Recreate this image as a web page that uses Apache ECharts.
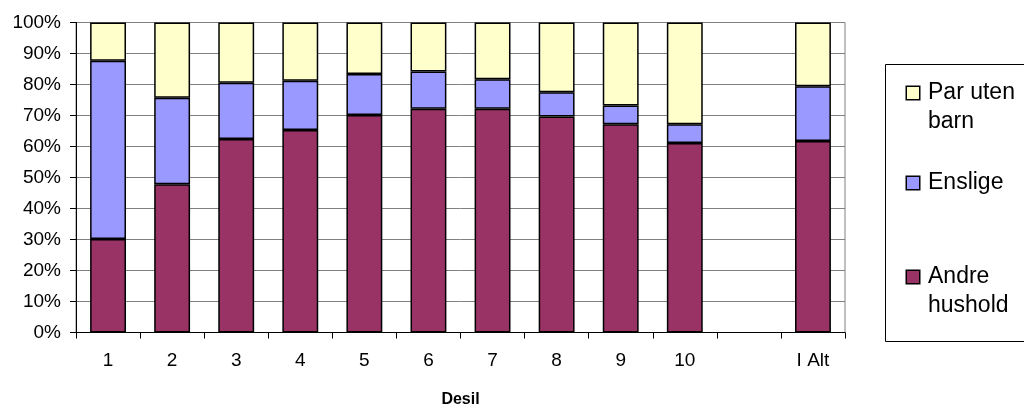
<!DOCTYPE html>
<html>
<head>
<meta charset="utf-8">
<title>Desil</title>
<script src="https://cdn.jsdelivr.net/npm/echarts@6/dist/echarts.min.js"></script>
<style>
  html, body { margin: 0; padding: 0; background: #ffffff; }
  #chart { width: 1024px; height: 408px; }
</style>
</head>
<body>
<div id="chart"></div>
<script>
// Household composition by income decile (share of households, %)
const categories = ['1', '2', '3', '4', '5', '6', '7', '8', '9', '10', '', 'I Alt'];
const andreHushold = [30.2, 47.8, 62.4, 65.3, 70.2, 72.2, 72.2, 69.7, 67.2, 61.1, null, 61.8];
const enslige      = [57.5, 27.9, 18.2, 15.9, 13.2, 12.0,  9.5,  7.8,  6.0,  6.1, null, 17.6];
const parUtenBarn  = [12.3, 24.3, 19.4, 18.8, 16.6, 15.8, 18.3, 22.5, 26.8, 32.8, null, 20.6];
const yTicks = [0, 10, 20, 30, 40, 50, 60, 70, 80, 90, 100];

const FONT = "'Liberation Sans', Arial, Helvetica, sans-serif";
const colors = { andre: '#993366', enslige: '#9999FF', par: '#FFFFCC' };

function barSeries(name, data, color) {
  return {
    name: name,
    type: 'bar',
    stack: 'total',
    data: data,
    barWidth: '56%',
    itemStyle: { color: color, borderColor: '#000000', borderWidth: 1.5 },
    emphasis: { disabled: true }
  };
}

// One legend block per series so each entry sits at its own height
function legendBlock(name, lines, color, top) {
  const rich = {
    m: { width: 12, height: 12, backgroundColor: color, borderColor: '#000000', borderWidth: 1.5 },
    g: { width: 9 },
    ind: { width: 21 },
    t: { fontSize: 23, fontFamily: FONT, color: '#000000', lineHeight: 29 }
  };
  return {
    data: [name],
    left: 902,
    top: top,
    orient: 'vertical',
    icon: 'none',
    itemWidth: 0,
    itemHeight: 0,
    selectedMode: false,
    padding: 0,
    formatter: function () {
      return lines.map(function (l, i) {
        return (i === 0 ? '{m|}{g|}' : '{ind|}') + '{t|' + l + '}';
      }).join('\n');
    },
    textStyle: { rich: rich, lineHeight: 29 }
  };
}

const chart = echarts.init(document.getElementById('chart'), null, { renderer: 'canvas' });

chart.setOption({
  animation: false,
  backgroundColor: '#ffffff',
  textStyle: { fontFamily: FONT },
  grid: {
    left: 76, right: 179, top: 22.5, bottom: 75.5,
    outerBoundsMode: 'none',
    containLabel: false,
    show: true, borderColor: '#808080', borderWidth: 1,
    backgroundColor: 'transparent'
  },
  legend: [
    legendBlock('Par uten barn', ['Par uten', 'barn'], colors.par, 78.5),
    legendBlock('Enslige', ['Enslige'], colors.enslige, 168.5),
    legendBlock('Andre hushold', ['Andre', 'hushold'], colors.andre, 262.5)
  ],
  graphic: [{
    type: 'rect',
    shape: { x: 885.5, y: 64.5, width: 160, height: 277 },
    style: { fill: 'none', stroke: '#000000', lineWidth: 1 },
    silent: true
  }],
  xAxis: {
    type: 'category',
    data: categories,
    boundaryGap: true,
    name: 'Desil',
    nameLocation: 'middle',
    nameGap: 59,
    nameTextStyle: { fontFamily: FONT, fontSize: 16, fontWeight: 'bold', color: '#000000' },
    axisLine: { lineStyle: { color: '#000000', width: 1 } },
    axisTick: { show: true, length: 6, lineStyle: { color: '#000000' } },
    axisLabel: { fontFamily: FONT, fontSize: 19, color: '#000000', margin: 19, interval: 0 },
    splitLine: { show: false }
  },
  yAxis: {
    type: 'value',
    min: 0,
    max: 100,
    interval: 10,
    axisLine: { show: true, lineStyle: { color: '#000000', width: 1 } },
    axisTick: { show: true, length: 6, lineStyle: { color: '#000000' } },
    axisLabel: {
      fontFamily: FONT, fontSize: 19, color: '#000000', margin: 15,
      formatter: function (v) { return yTicks.indexOf(v) >= 0 ? v + '%' : ''; }
    },
    splitLine: { show: true, lineStyle: { color: '#808080', width: 1 } }
  },
  series: [
    barSeries('Andre hushold', andreHushold, colors.andre),
    barSeries('Enslige', enslige, colors.enslige),
    barSeries('Par uten barn', parUtenBarn, colors.par)
  ]
});
</script>
</body>
</html>
